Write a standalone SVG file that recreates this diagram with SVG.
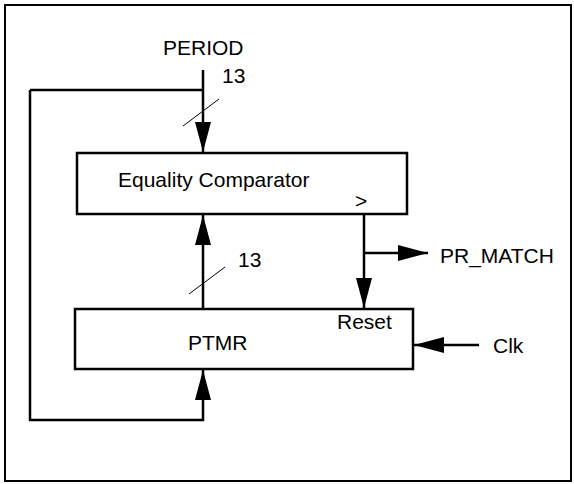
<svg xmlns="http://www.w3.org/2000/svg" width="574" height="484" viewBox="0 0 574 484">
<defs>
<style>
.t{font-family:"Liberation Sans",Arial,sans-serif;font-size:21px;fill:#000}
.box{fill:#fff;stroke:#000;stroke-width:2.5}
.w{fill:none;stroke:#000;stroke-width:2.5}
.s{fill:none;stroke:#000;stroke-width:1}
</style>
<marker id="ah" viewBox="0 0 30 16" refX="30" refY="8" markerWidth="30" markerHeight="16" markerUnits="userSpaceOnUse" orient="auto">
<path d="M0,0 L30,8 L0,16 Z" fill="#000"/>
</marker>
</defs>
<rect x="5" y="5" width="566" height="476" fill="#fff" stroke="#000" stroke-width="2"/>
<g id="comparator">
<rect class="box" x="77" y="153" width="330" height="61"/>
<text class="t" x="118" y="187">Equality Comparator</text>
<text class="t" x="355" y="208">&gt;</text>
</g>
<g id="ptmr">
<rect class="box" x="75" y="309" width="338" height="60"/>
<text class="t" x="188" y="350">PTMR</text>
<text class="t" x="337" y="329">Reset</text>
</g>
<g id="connectors">
<line class="w" x1="203" y1="70" x2="203" y2="152" marker-end="url(#ah)"/>
<polyline class="w" points="30,90 203,90"/>
<line class="s" x1="183" y1="126" x2="219" y2="99"/>
<line class="w" x1="203" y1="308" x2="203" y2="215" marker-end="url(#ah)"/>
<line class="s" x1="189" y1="294" x2="225" y2="267"/>
<line class="w" x1="364" y1="214" x2="364" y2="308" marker-end="url(#ah)"/>
<line class="w" x1="364" y1="253" x2="428" y2="253" marker-end="url(#ah)"/>
<line class="w" x1="479" y1="345" x2="414" y2="345" marker-end="url(#ah)"/>
<polyline class="w" points="30,90 30,420 203,420 203,370" marker-end="url(#ah)"/>
</g>
<g id="labels">
<text class="t" x="163" y="55">PERIOD</text>
<text class="t" x="222" y="83">13</text>
<text class="t" x="238" y="267">13</text>
<text class="t" x="440" y="263">PR_MATCH</text>
<text class="t" x="493" y="353">Clk</text>
</g>
</svg>
